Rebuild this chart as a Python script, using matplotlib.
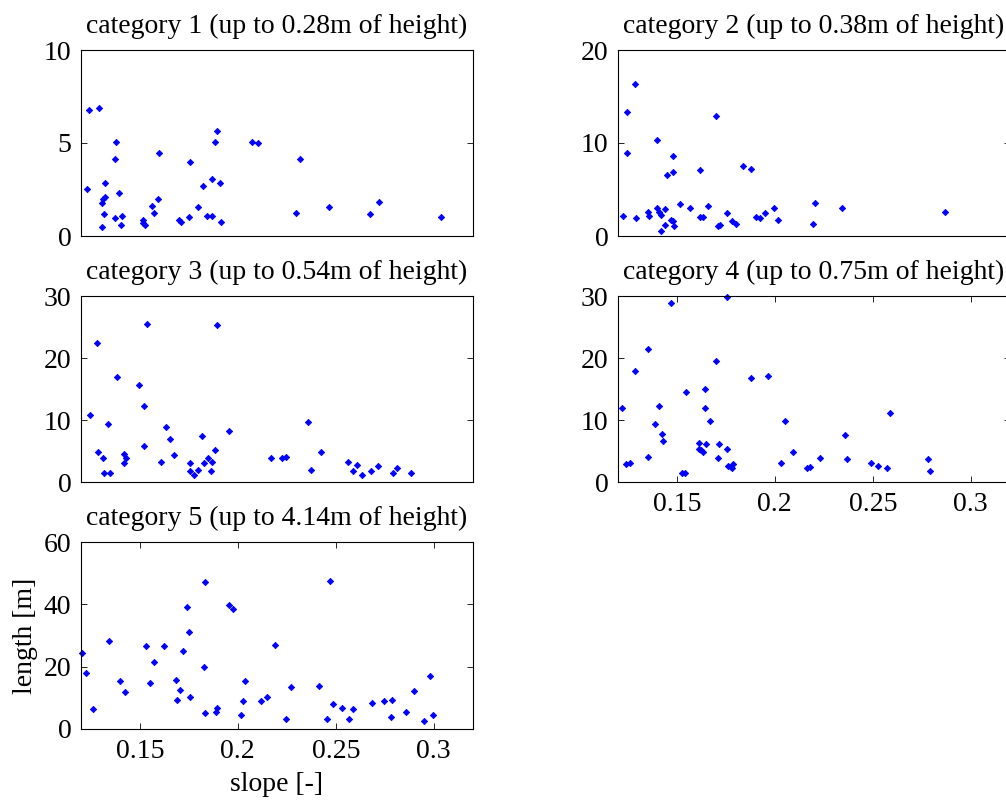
import matplotlib
matplotlib.use("Agg")
import matplotlib.pyplot as plt

plt.rcParams['font.family'] = ['Liberation Serif', 'DejaVu Serif']

titles = ["category 1 (up to 0.28m of height)",
          "category 2 (up to 0.38m of height)",
          "category 3 (up to 0.54m of height)",
          "category 4 (up to 0.75m of height)",
          "category 5 (up to 4.14m of height)"]

# category 1
slope1 = [0.1229, 0.1242, 0.1293, 0.1307, 0.1310, 0.1322, 0.1322, 0.1315, 0.1308,
          0.1372, 0.1378, 0.1392, 0.1372, 0.1404, 0.1411, 0.1514, 0.1518, 0.1528,
          0.1560, 0.1574, 0.1592, 0.1599, 0.1698, 0.1711, 0.1750, 0.1757, 0.1796,
          0.1822, 0.1841, 0.1868, 0.1868, 0.1886, 0.1893, 0.1907, 0.1914, 0.2075,
          0.2104, 0.2298, 0.2318, 0.2467, 0.2676, 0.2722, 0.3038]
len1 = [2.53, 6.75, 6.88, 1.78, 2.00, 2.10, 2.87, 1.17, 0.47,
        4.13, 5.03, 2.32, 0.95, 0.59, 1.08, 0.88, 0.70, 0.59,
        1.63, 1.22, 1.97, 4.47, 0.88, 0.74, 1.01, 3.99, 1.56,
        2.68, 1.08, 1.08, 3.09, 5.08, 5.64, 2.87, 0.74, 5.08,
        5.01, 1.24, 4.13, 1.56, 1.17, 1.85, 1.02]

# category 2
slope2 = [0.1225, 0.1247, 0.1247, 0.1286, 0.1293, 0.1351, 0.1358, 0.1397, 0.1397,
          0.1410, 0.1417, 0.1417, 0.1442, 0.1449, 0.1442, 0.1468, 0.1481, 0.1481,
          0.1481, 0.1488, 0.1514, 0.1566, 0.1617, 0.1617, 0.1632, 0.1658, 0.1702,
          0.1710, 0.1720, 0.1754, 0.1780, 0.1800, 0.1837, 0.1878, 0.1903, 0.1922,
          0.1949, 0.1995, 0.2015, 0.2197, 0.2205, 0.2341, 0.2868]
len2 = [2.15, 13.32, 8.94, 16.37, 1.90, 2.59, 2.15, 10.31, 3.02,
        2.59, 2.30, 0.50, 2.87, 6.57, 1.22, 1.76, 8.65, 6.86,
        1.62, 1.08, 3.41, 3.02, 7.15, 2.05, 2.05, 3.27, 12.93,
        1.08, 1.22, 2.44, 1.62, 1.33, 7.54, 7.25, 2.05, 1.90,
        2.44, 3.02, 1.76, 1.33, 3.55, 3.02, 2.59]

# category 3
slope3 = [0.1248, 0.1280, 0.1287, 0.1312, 0.1319, 0.1346, 0.1339, 0.1385, 0.1418,
          0.1418, 0.1431, 0.1496, 0.1521, 0.1521, 0.1535, 0.1606, 0.1632, 0.1652,
          0.1677, 0.1756, 0.1756, 0.1776, 0.1795, 0.1815, 0.1827, 0.1847, 0.1861,
          0.1868, 0.1886, 0.1893, 0.1953, 0.2167, 0.2226, 0.2247, 0.2357, 0.2371,
          0.2422, 0.2564, 0.2590, 0.2610, 0.2636, 0.2682, 0.2716, 0.2794, 0.2814,
          0.2886]
len3 = [10.86, 22.47, 4.89, 3.87, 1.40, 1.40, 9.41, 16.88, 4.52,
        3.01, 3.87, 15.59, 12.31, 5.75, 25.54, 3.23, 8.82, 6.94,
        4.30, 3.01, 1.77, 1.18, 1.99, 7.37, 3.01, 3.87, 1.77,
        3.23, 5.11, 25.32, 8.17, 3.87, 3.87, 4.09, 9.62, 1.99,
        4.89, 3.23, 1.77, 2.80, 1.18, 1.77, 2.63, 1.40, 2.20,
        1.40]

# category 4
slope4 = [0.1220, 0.1241, 0.1261, 0.1286, 0.1351, 0.1351, 0.1390, 0.1410, 0.1424,
          0.1431, 0.1469, 0.1527, 0.1541, 0.1547, 0.1612, 0.1612, 0.1624, 0.1632,
          0.1644, 0.1644, 0.1651, 0.1671, 0.1702, 0.1708, 0.1715, 0.1754, 0.1754,
          0.1761, 0.1775, 0.1781, 0.1786, 0.1878, 0.1963, 0.2034, 0.2054, 0.2093,
          0.2164, 0.2178, 0.2231, 0.2359, 0.2366, 0.2490, 0.2529, 0.2575, 0.2586,
          0.2783, 0.2790]
len4 = [11.94, 2.85, 3.01, 17.96, 21.40, 4.09, 9.41, 12.31, 7.80,
        6.56, 28.87, 1.40, 1.40, 14.57, 6.34, 5.32, 5.11, 4.89,
        15.00, 11.94, 6.13, 9.84, 19.57, 3.87, 6.13, 29.80, 5.32,
        2.63, 2.42, 2.20, 2.85, 16.72, 17.10, 3.01, 9.84, 4.89,
        2.20, 2.42, 3.87, 7.58, 3.66, 3.01, 2.63, 2.20, 11.08,
        3.66, 1.77]

# category 5
slope5 = [0.1207, 0.1227, 0.1260, 0.1343, 0.1397, 0.1423, 0.1533, 0.1554, 0.1571,
          0.1625, 0.1685, 0.1691, 0.1705, 0.1722, 0.1743, 0.1749, 0.1756, 0.1828,
          0.1834, 0.1834, 0.1887, 0.1894, 0.1957, 0.1977, 0.2018, 0.2025, 0.2037,
          0.2117, 0.2147, 0.2191, 0.2244, 0.2271, 0.2414, 0.2455, 0.2472, 0.2487,
          0.2533, 0.2566, 0.2586, 0.2685, 0.2748, 0.2782, 0.2789, 0.2858, 0.2901,
          0.2952, 0.2979, 0.2998]
len5 = [24.54, 18.00, 6.43, 28.29, 15.43, 11.79, 26.57, 14.68, 21.64,
        26.57, 15.86, 9.21, 12.64, 24.96, 39.00, 31.18, 10.18, 20.04,
        47.25, 5.25, 5.57, 6.86, 39.86, 38.57, 4.39, 8.89, 15.43,
        8.89, 10.18, 27.00, 3.11, 13.39, 13.82, 3.11, 47.57, 8.14,
        6.86, 3.11, 6.43, 8.46, 8.89, 3.96, 9.32, 5.57, 12.21,
        2.68, 17.14, 4.39]

slopes = [slope1, slope2, slope3, slope4, slope5]
lengths = [len1, len2, len3, len4, len5]
yticks = [[0, 5, 10], [0, 10, 20], [0, 10, 20, 30], [0, 10, 20, 30], [0, 20, 40, 60]]
xticks = [0.15, 0.2, 0.25, 0.3]
xticklabels = ["0.15", "0.2", "0.25", "0.3"]

fig = plt.figure(figsize=(10.06, 8.02), dpi=100)

W = 1006.0
H = 802.0
# pixel boxes: left, top, right, bottom
boxes = [(81, 50, 473, 236), (618, 50, 1010, 236),
         (81, 296, 473, 482), (618, 296, 1010, 482),
         (81, 542, 473, 729)]

fs = 20
for i in range(5):
    l, t, r, b = boxes[i]
    ax = fig.add_axes([l / W, 1 - b / H, (r - l) / W, (b - t) / H])
    ax.plot(slopes[i], lengths[i], linestyle='none', marker='D', markersize=3.2,
            color='blue', markeredgewidth=0.6, clip_on=False)
    ax.set_xlim(0.12, 0.32)
    ax.set_ylim(yticks[i][0], yticks[i][-1])
    ax.set_yticks(yticks[i])
    ax.set_yticklabels([str(v) for v in yticks[i]], fontsize=fs)
    if i >= 3:
        ax.set_xticks(xticks)
        ax.set_xticklabels(xticklabels, fontsize=fs)
    else:
        ax.set_xticks([])
    ax.tick_params(direction='in', top=True, right=True, length=4, width=0.6, pad=7)
    for s in ax.spines.values():
        s.set_linewidth(0.8)
    ax.set_title(titles[i], fontsize=fs, pad=12)
    if i == 4:
        ax.set_xlabel('slope [-]', fontsize=fs, labelpad=6)
        ax.set_ylabel('length [m]', fontsize=fs, labelpad=4)

fig.savefig('out.png', dpi=100)
